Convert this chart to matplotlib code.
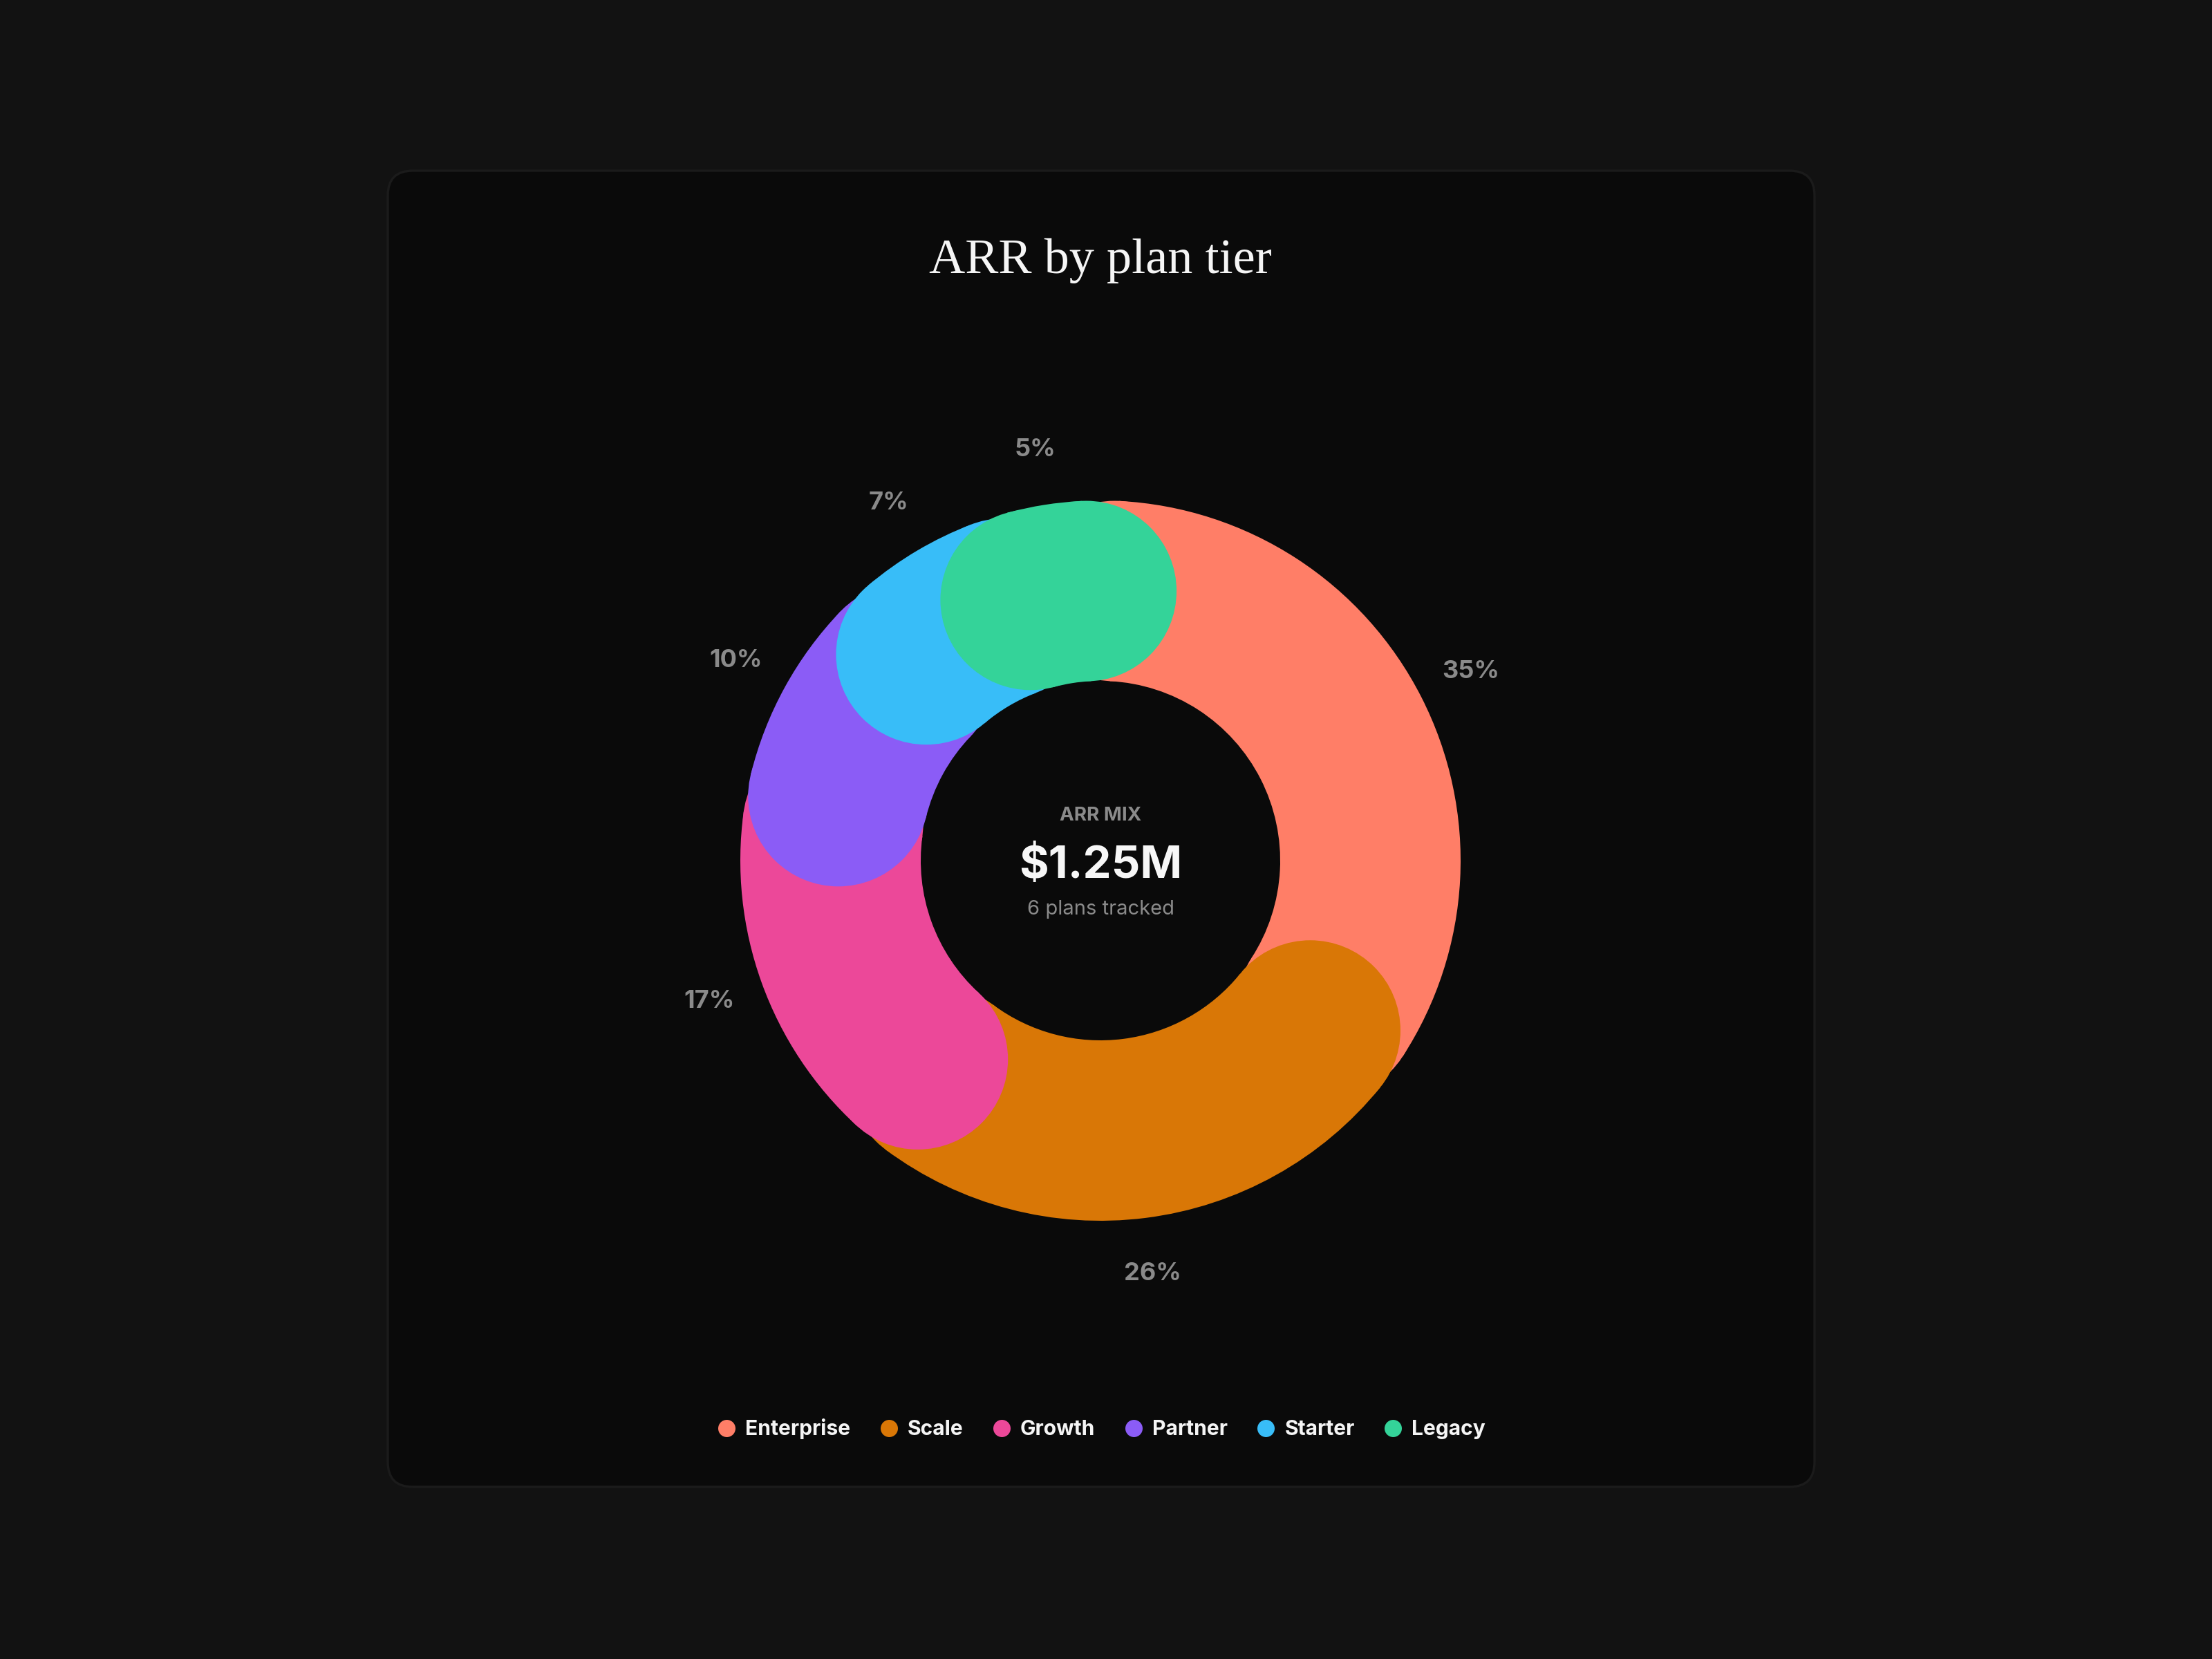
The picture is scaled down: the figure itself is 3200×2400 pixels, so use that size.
import matplotlib
matplotlib.use("Agg")
import matplotlib.pyplot as plt
from matplotlib.patches import Circle, FancyBboxPatch
from matplotlib.lines import Line2D
import numpy as np

# data
plans = ["Enterprise", "Scale", "Growth", "Partner", "Starter", "Legacy"]
arr_share = [35, 26, 17, 10, 7, 5]
colors = ["#FF7E67", "#D97706", "#EC4899", "#8B5CF6", "#38BDF8", "#34D399"]

title = "ARR by plan tier"
center_kicker = "ARR MIX"
center_value = "$1.25M"
center_note = f"{len(plans)} plans tracked"

W, H = 3200, 2400
BG = "#121212"
CARD = "#0a0a0a"
SANS = ["Inter", "DejaVu Sans"]

fig = plt.figure(figsize=(16, 12), dpi=200, facecolor=BG)
ax = fig.add_axes([0, 0, 1, 1])
ax.set_facecolor(BG)

# card
card = FancyBboxPatch((561, 249), 2064, 1904,
                      boxstyle="round,pad=0,rounding_size=36",
                      facecolor=CARD, edgecolor="#1b1b1b", linewidth=1.2, zorder=0)
ax.add_patch(card)

# donut
cx, cy = 1592, 1155
r_out, ring = 521, 261
wedges, _, pct_texts = ax.pie(
    arr_share, colors=colors, radius=r_out, center=(cx, cy),
    startangle=90, counterclock=False,
    wedgeprops=dict(width=ring, linewidth=0),
    autopct="%1.0f%%", pctdistance=1.155,
    textprops=dict(color="#8a8a8a", fontsize=13, fontweight="bold",
                   family=SANS),
)

# rounded ends: segments are pulled in a little and capped at both ends,
# later segments sit on top of earlier ones
r_mid = r_out - ring / 2
inset = 3.0
for i, w in enumerate(wedges):
    t1, t2 = w.theta1 + inset, w.theta2 - inset
    w.set_theta1(t1)
    w.set_theta2(t2)
    w.set_zorder(2 + i)
    for ang in (t1, t2):
        a = np.deg2rad(ang)
        ax.add_patch(Circle((cx + r_mid * np.cos(a), cy + r_mid * np.sin(a)),
                            ring / 2, facecolor=w.get_facecolor(),
                            linewidth=0, zorder=2 + i))
for t in pct_texts:
    t.set_zorder(20)

ax.set_xlim(0, W)
ax.set_ylim(0, H)
ax.set_aspect("equal")
ax.axis("off")

# title
ax.text(1592, H - 395, title, ha="center", va="baseline", color="#f5f5f5",
        fontsize=26, family=["Liberation Serif", "DejaVu Serif"], zorder=20)

# center labels
ax.text(cx, H - 1187, center_kicker, ha="center", va="baseline",
        color="#8a8a8a", fontsize=10, fontweight="bold", family=SANS, zorder=20)
ax.text(cx, H - 1270, center_value, ha="center", va="baseline",
        color="#f7f7f7", fontsize=23.5, fontweight="bold", family=SANS, zorder=20)
ax.text(cx, H - 1323, center_note, ha="center", va="baseline",
        color="#8a8a8a", fontsize=10.5, family=SANS, zorder=20)

# legend
handles = [Line2D([], [], marker="o", linestyle="none", markersize=9,
                  markerfacecolor=c, markeredgewidth=0) for c in colors]
leg = ax.legend(handles, plans, loc="center", ncol=len(plans),
                bbox_to_anchor=(1594 / W, 1 - 2067 / H), frameon=False,
                handlelength=0.8, handletextpad=0.5, columnspacing=1.45,
                prop=dict(family=SANS, size=10.8, weight="bold"))
for t in leg.get_texts():
    t.set_color("#f5f5f5")

fig.savefig("out.png", dpi=200, facecolor=BG)
